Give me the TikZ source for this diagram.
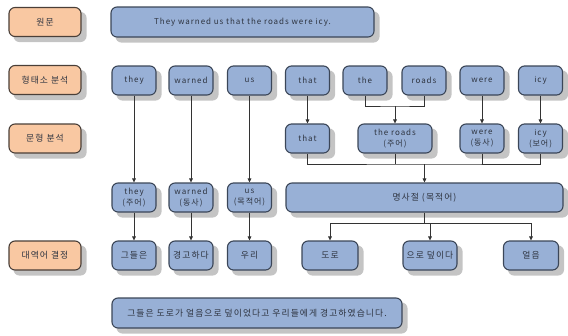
\documentclass[tikz,border=0pt]{standalone}
\usepackage{fontspec}
\setmainfont{Noto Sans CJK KR}[LetterSpace=12]
\newfontfamily\korfont{Noto Sans CJK KR}[LetterSpace=12]
\usetikzlibrary{arrows.meta,backgrounds,calc}
\definecolor{orfill}{HTML}{F9C8A2}
\definecolor{orline}{HTML}{4A3F38}
\definecolor{blfill}{HTML}{98B0D6}
\definecolor{blline}{HTML}{3B4658}
\definecolor{txt}{HTML}{2E3440}
\definecolor{conn}{HTML}{333333}
\definecolor{shad}{HTML}{C4C4C4}
\tikzset{
  base/.style={rounded corners=6pt, line width=1.1pt, inner sep=1pt, align=center,
    font=\fontsize{8}{11}\selectfont, text=txt},
  kor/.style={font=\fontsize{8.8}{11}\selectfont\korfont},
  lab/.style={base, kor, fill=orfill, draw=orline, minimum width=72pt, minimum height=29pt},
  bx/.style={base, fill=blfill, draw=blline, minimum width=44pt, minimum height=29pt},
  shadowbox/.style={fill=shad, draw=none, rounded corners=6pt},
  ln/.style={draw=conn, line width=0.7pt},
  arr/.style={ln, -{Triangle[length=4pt,width=3.6pt]}}
}
\begin{document}
\begin{tikzpicture}[x=1pt,y=-1pt]
\useasboundingbox (0,0) rectangle (568,335);
% left labels
\node[lab] (l1) at (45,22) {원문};
\node[lab] (l2) at (45,80) {형태소 분석};
\node[lab] (l3) at (45,138.5) {문형 분석};
\node[lab] (l4) at (45,255.5) {대역어 결정};
% top sentence
\node[bx, minimum width=263pt, minimum height=30pt] (sent) at (242.5,22) {They warned us that the roads were icy.};
% row 2
\node[bx] (they) at (134,80.5) {they};
\node[bx] (warned) at (191,80.5) {warned};
\node[bx] (us) at (249.5,80.5) {us};
\node[bx] (that) at (307.5,80.5) {that};
\node[bx] (the) at (365,80.5) {the};
\node[bx] (roads) at (424,80.5) {roads};
\node[bx] (were) at (482,80.5) {were};
\node[bx] (icy) at (540.5,80.5) {icy};
% row 3
\node[bx] (thatB) at (307.5,138.5) {that};
\node[bx, minimum width=74pt] (theroads) at (395,138.5) {the roads\\\korfont(주어)};
\node[bx] (wereB) at (482,138.5) {were\\\korfont(동사)};
\node[bx] (icyB) at (540.5,138.5) {icy\\\korfont(보어)};
% row 4
\node[bx] (theyC) at (134,197.5) {they\\\korfont(주어)};
\node[bx] (warnedC) at (191,197.5) {warned\\\korfont(동사)};
\node[bx] (usC) at (249.5,197.5) {us\\\korfont(목적어)};
\node[bx, kor, minimum width=277pt] (clause) at (424.5,197.5) {명사절 (목적어)};
% row 5
\node[bx, kor] (k1) at (134,255.5) {그들은};
\node[bx, kor] (k2) at (191,255.5) {경고하다};
\node[bx, kor] (k3) at (249.5,255.5) {우리};
\node[bx, kor, minimum width=56pt] (k4) at (330,255.5) {도로};
\node[bx, kor, minimum width=54pt] (k5) at (430,255.5) {으로 덮이다};
\node[bx, kor, minimum width=55pt] (k6) at (531,255.5) {얼음};
% bottom sentence
\node[bx, kor, minimum width=290pt, minimum height=30pt] (out) at (257,313) {그들은 도로가 얼음으로 덮이었다고 우리들에게 경고하였습니다.};
% shadows
\begin{scope}[on background layer]
\foreach \nm in {l1,l2,l3,l4,sent,they,warned,us,that,the,roads,were,icy,thatB,theroads,wereB,icyB,theyC,warnedC,usC,clause,k1,k2,k3,k4,k5,k6,out}{
  \path ($(\nm.south west)+(5,5)$) coordinate (sa) ($(\nm.north east)+(5,5)$) coordinate (sb);
  \fill[shadowbox] (sa) rectangle (sb);
}
\end{scope}
% connectors
\draw[arr] (they) -- (theyC);
\draw[arr] (warned) -- (warnedC);
\draw[arr] (us) -- (usC);
\draw[arr] (theyC) -- (k1);
\draw[arr] (warnedC) -- (k2);
\draw[arr] (usC) -- (k3);
\draw[arr] (that) -- (thatB);
\coordinate (j1) at (395,106);
\draw[ln] (the.south) |- (j1) -| (roads.south);
\draw[arr] (j1) -- (theroads.north);
\draw[arr] (were) -- (wereB);
\draw[arr] (icy) -- (icyB);
\coordinate (j2) at (424.5,164);
\draw[ln] (thatB.south) |- (j2) -| (icyB.south);
\draw[ln] (theroads.south) -- (theroads.south |- j2);
\draw[ln] (wereB.south) -- (wereB.south |- j2);
\draw[arr] (j2) -- (clause.north);
\coordinate (j3) at (424.5,223);
\draw[ln] (clause.south) -- (j3);
\draw[arr] (j3) -| (k4.north);
\draw[arr] (j3) -| (k5.north);
\draw[arr] (j3) -| (k6.north);
\end{tikzpicture}
\end{document}
